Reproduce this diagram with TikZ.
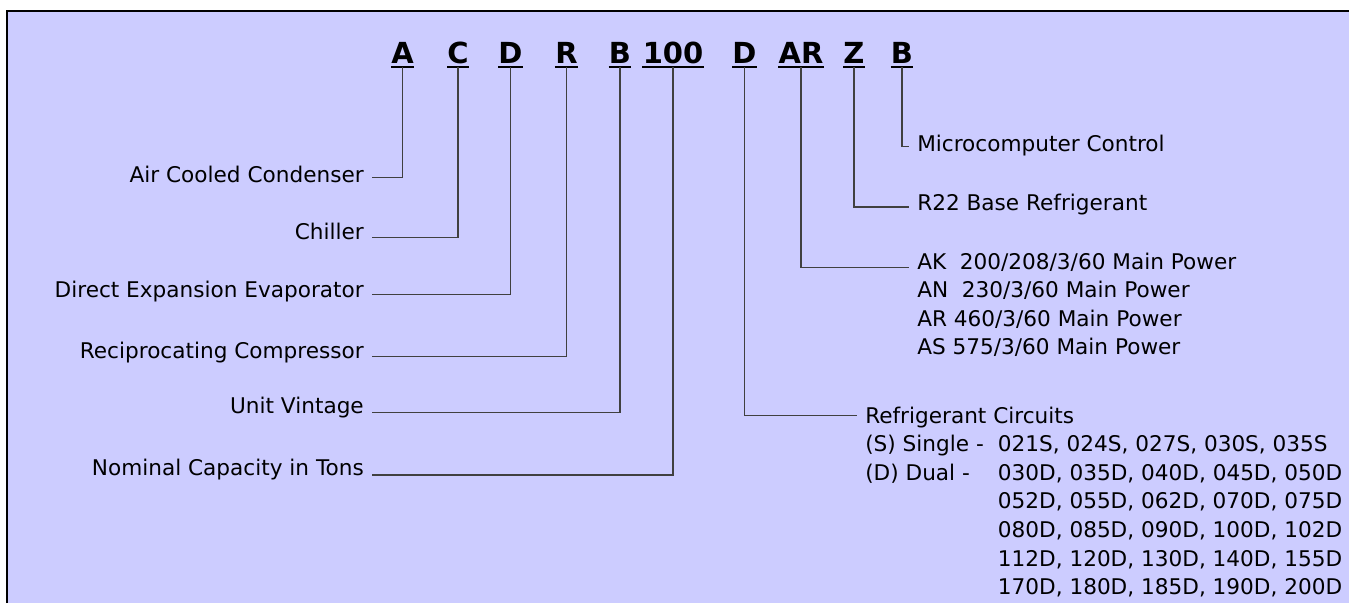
\documentclass[tikz,border=0pt]{standalone}
\usepackage{fontspec}
\setmainfont{DejaVu Sans}
\definecolor{panel}{RGB}{204,204,255}
\tikzset{
  code/.style={font=\fontsize{16.5}{19}\selectfont\bfseries, inner sep=0pt, text depth=2pt},
  lbl/.style={font=\fontsize{12.3}{16.3}\selectfont, inner xsep=4.5pt, inner ysep=0pt},
  lead/.style={draw=black!75, line width=0.6pt},
  uline/.style={line width=1.4pt}
}
\begin{document}
\begin{tikzpicture}[x=0.02cm,y=-0.02cm]
\useasboundingbox (0,0) rectangle (1349,603);
\fill[panel] (7,11) rectangle (1349,603);
\draw[line width=1.2pt] (7,603) -- (7,11) -- (1349,11);
% model number
\node[code,anchor=base] (cAir) at (402.5,63) {A};
\node[code,anchor=base] (cChil) at (458,63) {C};
\node[code,anchor=base] (cEvap) at (510.5,63) {D};
\node[code,anchor=base] (cComp) at (566.5,63) {R};
\node[code,anchor=base] (cVint) at (620,63) {B};
\node[code,anchor=base] (cTons) at (673,63) {100};
\node[code,anchor=base] (cCirc) at (744.5,63) {D};
\node[code,anchor=base] (cPow) at (801,63) {AR};
\node[code,anchor=base] (cRef) at (854,63) {Z};
\node[code,anchor=base] (cCtl) at (902,63) {B};
\foreach \n in {cAir,cChil,cEvap,cComp,cVint,cTons,cCirc,cPow,cRef,cCtl}
  \draw[uline] (\n.south west) -- (\n.south east);
% left side
\node[lbl,anchor=base east] (air) at (372,182) {Air Cooled Condenser};
\node[lbl,anchor=base east] (chiller) at (372,239.5) {Chiller};
\node[lbl,anchor=base east] (evap) at (372,297) {Direct Expansion Evaporator};
\node[lbl,anchor=base east] (comp) at (372,358) {Reciprocating Compressor};
\node[lbl,anchor=base east] (vint) at (372,413.5) {Unit Vintage};
\node[lbl,anchor=base east] (tons) at (372,475.5) {Nominal Capacity in Tons};
% right side
\node[lbl,anchor=base west] (micro) at (909,151) {Microcomputer Control};
\node[lbl,anchor=base west] (r22) at (909,210) {R22 Base Refrigerant};
\node[lbl,anchor=base west] (power) at (909,269) {\begin{tabular}[t]{@{}l@{}}
AK\ \ 200/208/3/60 Main Power\\
AN\ \ 230/3/60 Main Power\\
AR 460/3/60 Main Power\\
AS 575/3/60 Main Power\end{tabular}};
\node[lbl,anchor=base west] (circ) at (857,423) {\begin{tabular}[t]{@{}p{75.5pt}@{}l@{}}
\multicolumn{2}{@{}l@{}}{Refrigerant Circuits}\\
(S) Single - & 021S, 024S, 027S, 030S, 035S\\
(D) Dual - & 030D, 035D, 040D, 045D, 050D\\
 & 052D, 055D, 062D, 070D, 075D\\
 & 080D, 085D, 090D, 100D, 102D\\
 & 112D, 120D, 130D, 140D, 155D\\
 & 170D, 180D, 185D, 190D, 200D\end{tabular}};
% leads
\draw[lead] (cAir.south) |- ([yshift=2.8pt]air.base east);
\draw[lead] (cChil.south) |- ([yshift=1.2pt]chiller.base east);
\draw[lead] (cEvap.south) |- ([yshift=1.2pt]evap.base east);
\draw[lead] (cComp.south) |- ([yshift=0.6pt]comp.base east);
\draw[lead] (cVint.south) |- ([yshift=0.8pt]vint.base east);
\draw[lead] (cTons.south) |- ([yshift=0.3pt]tons.base east);
\draw[lead] (cCtl.south) |- ([yshift=2.8pt]micro.base west);
\draw[lead] (cRef.south) |- ([yshift=1.7pt]r22.base west);
\draw[lead] (cPow.south) |- ([yshift=0.6pt]power.base west);
\draw[lead] (cCirc.south) |- ([yshift=4.5pt]circ.base west);
\end{tikzpicture}
\end{document}
